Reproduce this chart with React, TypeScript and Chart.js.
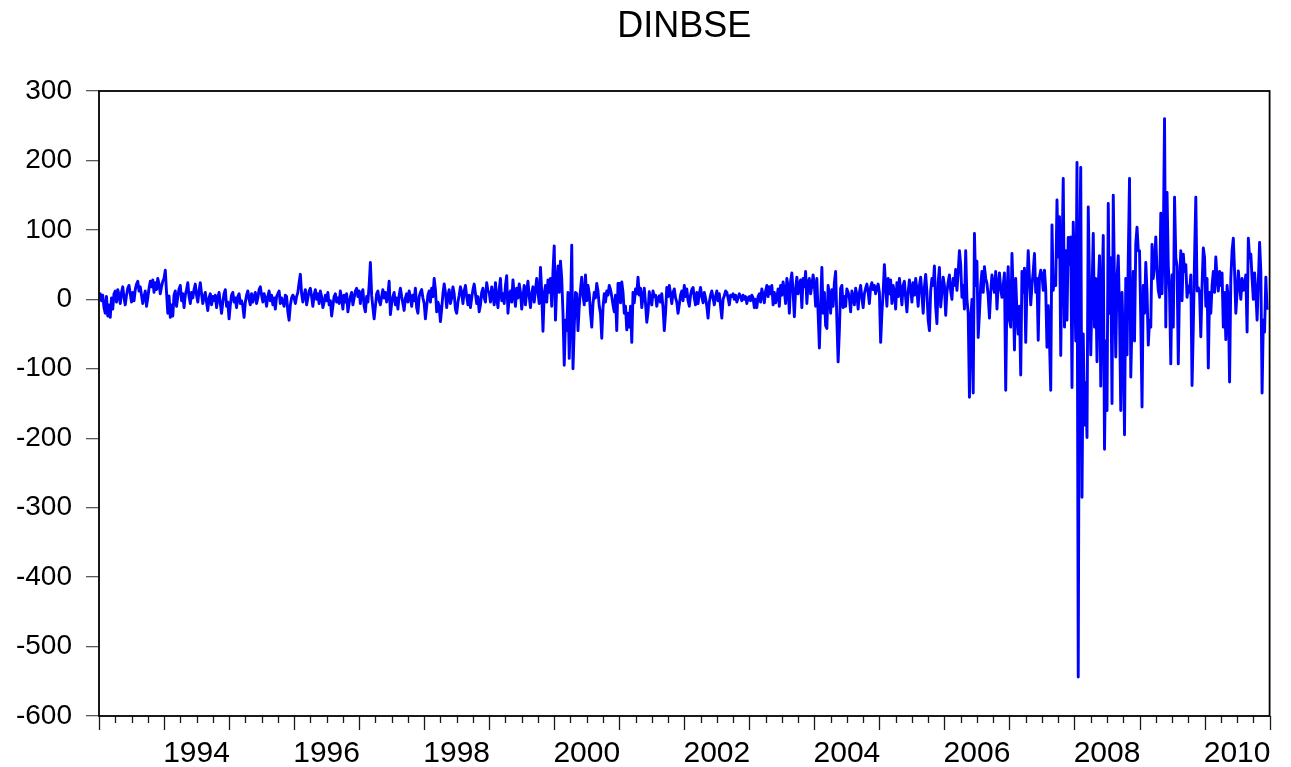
import React, { useEffect, useRef } from 'react';
import { Chart, registerables } from 'chart.js';

Chart.register(...registerables);

const TITLE = 'DINBSE';
const X_MIN = 1993;
const X_MAX = 2011;
const Y_MIN = -600;
const Y_MAX = 300;
const Y_STEP = 100;
const X_LABEL_YEARS = [1994, 1996, 1998, 2000, 2002, 2004, 2006, 2008, 2010];
const WEEKS_PER_YEAR = 52;

// Weekly first differences of the index, one array per calendar year
const W1993 = [5, 8, -2, 6, -12, -20, 4, -24, -8, -26, 2, -14, 8, 12, -4, 14, 6, -6, 10, 18, 2, -8, 6, 16, 20, 8, -4, 10, -2, 14, 22, 26, 12, 18, 6, -6, 4, 12, -10, 2, 16, 26, 18, 28, 10, 24, 14, 30, 22, 8, 18, 26];
const W1994 = [30, 42, 10, -20, 5, -26, -8, -24, 6, 12, -10, 4, 15, 20, -2, 8, -12, 6, 14, 24, 4, -6, 10, 2, 14, 22, 6, -4, 12, 24, 8, -6, 4, 10, -4, -16, 2, 8, -8, 4, -2, 6, -12, 2, 10, -6, -20, -4, 8, 14, -10, -4];
const W1995 = [-28, -8, 6, 10, -4, 2, -12, 4, 8, -6, -2, -10, -26, -4, 6, 12, 0, -8, 8, -4, 4, 10, -6, 2, 14, 18, 6, -4, 8, 2, -10, 4, 12, -2, 6, -8, 2, -14, 4, 8, 12, -6, 2, -4, -10, 6, 4, -18, -30, -8, 2, 6];
const W1996 = [2, -6, 4, 10, 24, 36, 8, -4, 6, 14, -8, 2, 12, 16, 4, -10, 6, 14, 0, 8, -6, 12, 4, -12, -4, 6, -2, 10, -8, -2, -24, -10, 4, 8, -4, 2, -6, 12, 2, -14, 6, -4, 8, -18, -6, 4, 10, -8, 2, 12, 16, 4];
const W1997 = [12, -6, 8, 14, -10, -18, 4, -4, 20, 53, 6, -12, -28, -10, 8, 12, -2, -8, 4, 14, 2, 10, -4, 6, 26, -22, -6, 4, 10, -8, 2, -14, 6, 16, 4, -6, -16, 2, 8, -4, 12, 4, -10, 6, -2, 16, -12, -20, 4, 10, 14, 2];
const W1998 = [-6, -28, -10, 6, 12, -4, 16, 4, 30, 14, -18, -4, -10, -32, -14, 8, 22, 10, -12, 4, 14, -6, 2, 18, 8, -14, -20, -4, 6, 18, 10, -6, 12, 20, 4, -8, 6, -12, 2, 14, 22, 8, -6, 4, -18, -8, 10, 16, 2, -4, 24, 12];
const W1999 = [10, -4, 18, 6, -8, 24, 2, -12, 14, 30, -2, 8, -6, 20, 34, -20, 4, 12, -4, 28, 6, -10, 16, 2, 22, 10, -14, 4, 20, -8, 12, 26, 4, -12, 8, 18, -4, 14, 30, 10, -6, 46, 10, -46, 8, 20, -4, 28, 10, 30, -10, 40];
const W2000 = [77, -30, 20, 48, 10, 55, 30, -20, -95, -30, -45, 10, -85, -20, 78, -100, -40, 10, 8, -45, -10, 14, 32, 6, -8, 35, -2, 20, 8, -20, -40, -6, 10, 2, 23, 12, -10, -20, -56, -12, 8, -4, 12, 6, 20, 14, 4, -8, -18, 6, -45, 23];
const W2001 = [23, -5, 25, 10, -20, -10, -44, -20, -40, -10, -62, 10, -5, 15, 8, 32, 6, 16, -12, 4, 16, -6, -33, -18, 11, 2, -8, 12, 4, 6, -10, 2, 5, -4, 8, -12, -45, -20, 17, 4, 20, 8, -6, 10, 15, 2, -4, -20, -8, 6, 12, -2];
const W2002 = [20, 4, 15, -2, -10, 6, 14, 17, 2, -8, 10, -6, 8, 17, 4, -5, 10, 2, -10, -27, -4, 6, 12, 2, -8, 4, 12, -2, 8, -10, -27, 0, 5, 12, 10, 2, -8, 6, 4, 8, 0, 6, -4, 2, 8, 4, -2, 6, 0, 4, -6, 2];
const W2003 = [4, -2, 6, 2, -12, 0, -12, 4, 8, -4, 15, 6, -5, 12, 20, 4, 18, 8, 20, -8, 10, -5, 2, 15, -10, 20, 6, 25, 12, -6, 30, 18, -20, 26, 38, 10, -25, 14, 32, 8, 22, 28, -12, 30, 18, 40, -6, 24, 30, 8, 20, 35];
const W2004 = [20, -10, 30, -20, -70, -10, 46, -20, 10, -38, -42, 20, 6, -20, 14, -10, 24, 40, -30, -90, -45, 16, 20, -12, 4, -10, 15, 10, 2, -18, 12, 4, -8, 16, 6, -14, 10, 20, 2, -12, 8, 16, 22, 10, -6, 18, 24, 14, 20, 8, 16, 22];
const W2005 = [10, -62, -20, 10, 50, 20, -10, 30, 8, 28, -6, 20, 10, -14, 24, 4, 30, 12, -8, 20, 26, 2, -18, 10, 28, 16, -4, 24, 6, 30, 14, -10, 20, 32, 8, -20, 18, 36, 10, -30, -45, 12, 30, 20, 48, -10, -35, 24, 46, -11, 10, 32];
const W2006 = [20, -23, 10, 25, 35, 12, 0, 30, 20, 43, 13, 40, 70, 50, 3, 20, -14, 70, 0, -20, -141, -30, 0, -135, 95, 20, 55, -55, -20, 20, 40, 10, 47, 30, 23, 5, -27, 10, 35, 20, 10, 40, -14, 20, 38, 15, 3, 20, 38, -131, 10, 47];
const W2007 = [-30, -40, 66, 10, -73, 30, -20, -50, -10, -109, 40, 10, 45, -62, 20, 70, 30, -8, 20, 40, 66, 10, 30, -59, 32, 42, 35, 13, 42, 14, -69, -9, -60, -131, 107, 13, 32, 20, 143, 61, 119, -81, 60, 174, -40, 70, -30, 89, 50, 90, -127, 111];
const W2008 = [40, -60, 197, -544, 50, 190, -285, -50, -181, -120, -199, 133, 20, -80, 10, 95, -40, 30, -90, 20, 63, -125, 10, 92, -216, -60, -160, 138, -20, 60, -150, 150, 20, -83, 30, 63, -20, -160, 10, -60, -195, 30, -80, 60, 174, -112, -30, 40, -60, 80, 104, 70];
const W2009 = [70, -30, -155, 20, -20, 53, 10, -66, -30, -40, 79, 30, 52, 90, 40, 13, 3, 124, 8, 80, 260, -40, 154, 48, 10, -93, 35, -40, 147, 60, 48, -93, 20, 70, -2, 65, 40, 50, 3, 19, 10, 35, -124, -40, 60, 147, 12, 17, 10, -54, 20, 74];
const W2010 = [60, -10, 30, -99, 10, -20, 20, 40, 10, 61, 30, 12, 40, 20, 38, -40, 10, -58, 20, 0, -119, 30, 70, 88, 40, -20, 10, 41, 20, 0, 30, 13, 20, 35, -47, 88, 60, 65, 30, 0, 38, 10, -30, 25, 82, 40, -135, -30, -47, 32, -15];

const YEARS = [
  { year: 1993, values: W1993 },
  { year: 1994, values: W1994 },
  { year: 1995, values: W1995 },
  { year: 1996, values: W1996 },
  { year: 1997, values: W1997 },
  { year: 1998, values: W1998 },
  { year: 1999, values: W1999 },
  { year: 2000, values: W2000 },
  { year: 2001, values: W2001 },
  { year: 2002, values: W2002 },
  { year: 2003, values: W2003 },
  { year: 2004, values: W2004 },
  { year: 2005, values: W2005 },
  { year: 2006, values: W2006 },
  { year: 2007, values: W2007 },
  { year: 2008, values: W2008 },
  { year: 2009, values: W2009 },
  { year: 2010, values: W2010 },
];

const FONT = 'Arial, "Liberation Sans", Helvetica, sans-serif';

// Title centred over the plot box, quarterly tick marks below it (long at
// year starts) and the box frame itself
const frameAndTicks = {
  id: 'frameAndTicks',
  afterDraw(chart: any) {
    const { ctx, chartArea } = chart;
    const { left, right, top, bottom } = chartArea;
    const xs = chart.scales.x;
    ctx.save();

    ctx.fillStyle = '#000';
    ctx.font = `36px ${FONT}`;
    ctx.textAlign = 'center';
    ctx.textBaseline = 'middle';
    ctx.fillText(TITLE, (left + right) / 2, 27);

    ctx.strokeStyle = '#1a1a1a';
    ctx.lineWidth = 1.3;
    for (let q = X_MIN * 4; q <= X_MAX * 4; q++) {
      const px = Math.round(xs.getPixelForValue(q / 4)) + 0.5;
      const len = q % 4 === 0 ? 14 : 7;
      ctx.beginPath();
      ctx.moveTo(px, bottom);
      ctx.lineTo(px, bottom + len);
      ctx.stroke();
    }
    ctx.strokeStyle = '#000';
    ctx.lineWidth = 1.8;
    ctx.strokeRect(left, top, right - left, bottom - top);
    ctx.restore();
  },
};

export default function App() {
  const canvasRef = useRef<HTMLCanvasElement | null>(null);

  useEffect(() => {
    if (!canvasRef.current) return;
    const points: { x: number; y: number }[] = [];
    YEARS.forEach(({ year, values }) => {
      values.forEach((v, w) => points.push({ x: year + w / WEEKS_PER_YEAR, y: v }));
    });

    const chart = new Chart(canvasRef.current, {
      type: 'line',
      data: {
        datasets: [
          {
            label: TITLE,
            data: points,
            borderColor: '#0000ff',
            borderWidth: 2.9,
            borderJoinStyle: 'round',
            pointRadius: 0,
            tension: 0,
            fill: false,
          },
        ],
      },
      options: {
        responsive: false,
        animation: false,
        devicePixelRatio: 1,
        layout: { padding: { left: 0, right: 20, top: 91, bottom: 0 } },
        plugins: {
          legend: { display: false },
          tooltip: { enabled: false },
          title: { display: false },
        },
        scales: {
          x: {
            type: 'linear',
            min: X_MIN,
            max: X_MAX,
            afterBuildTicks: (scale: any) => {
              scale.ticks = X_LABEL_YEARS.map((y) => ({ value: y + 0.5 }));
            },
            afterFit: (scale: any) => {
              scale.height = 51;
            },
            grid: { display: false, drawTicks: false },
            border: { display: false },
            ticks: {
              autoSkip: false,
              maxRotation: 0,
              minRotation: 0,
              padding: 20,
              color: '#000',
              font: { family: FONT, size: 30 },
              callback: (_v: any, i: number) => String(X_LABEL_YEARS[i]),
            },
          },
          y: {
            min: Y_MIN,
            max: Y_MAX,
            afterFit: (scale: any) => {
              scale.width = 99;
            },
            grid: {
              drawOnChartArea: false,
              drawTicks: true,
              tickLength: 13,
              color: '#5a5a5a',
              lineWidth: 1.3,
            },
            border: { display: false },
            ticks: {
              stepSize: Y_STEP,
              padding: 14,
              color: '#000',
              font: { family: FONT, size: 28 },
            },
          },
        },
      },
      plugins: [frameAndTicks],
    });

    return () => chart.destroy();
  }, []);

  return (
    <div style={{ position: 'absolute', left: 0, top: 0, width: 1291, height: 767, background: '#fff' }}>
      <canvas ref={canvasRef} width={1291} height={767} style={{ display: 'block' }} />
    </div>
  );
}
